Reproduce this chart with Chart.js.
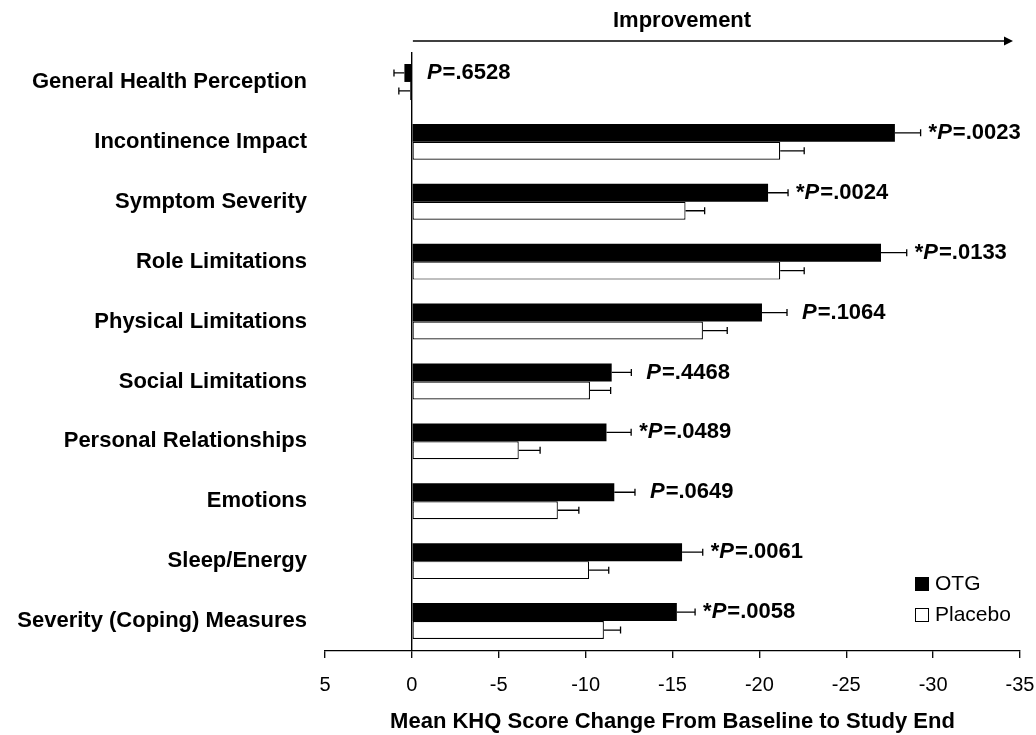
<!DOCTYPE html>
<html>
<head>
<meta charset="utf-8">
<script src="https://cdn.jsdelivr.net/npm/chart.js@4"></script>
<style>
  body { margin: 0; background: #fff; }
</style>
</head>
<body>
<canvas id="khqChart" width="1036" height="735"></canvas>
<script>
// KHQ domains, top to bottom
const categories = [
    'General Health Perception',
    'Incontinence Impact',
    'Symptom Severity',
    'Role Limitations',
    'Physical Limitations',
    'Social Limitations',
    'Personal Relationships',
    'Emotions',
    'Sleep/Energy',
    'Severity (Coping) Measures'
];
const otgMeans = [0.43, -27.8, -20.5, -27.0, -20.15, -11.5, -11.2, -11.65, -15.55, -15.25];
const otgErrors = [0.6, 1.48, 1.15, 1.48, 1.44, 1.13, 1.42, 1.19, 1.19, 1.05];
const placeboMeans = [0.1, -21.2, -15.75, -21.2, -16.75, -10.25, -6.15, -8.4, -10.2, -11.05];
const placeboErrors = [0.65, 1.38, 1.1, 1.38, 1.4, 1.19, 1.23, 1.21, 1.13, 0.96];
const pValues = ['.6528', '.0023', '.0024', '.0133', '.1064', '.4468', '.0489', '.0649', '.0061', '.0058'];
const significant = [false, true, true, true, false, false, true, false, true, true];

const FONT = '"Liberation Sans", Arial, sans-serif';

const errorBars = {
    id: 'errorBars',
    afterDatasetsDraw(chart) {
        const ctx = chart.ctx;
        const xScale = chart.scales.x;
        chart.data.datasets.forEach((ds, di) => {
            chart.getDatasetMeta(di).data.forEach((bar, i) => {
                const v = ds.data[i];
                const err = ds.errors[i];
                const end = xScale.getPixelForValue(v < 0 ? v - err : v + err);
                ctx.save();
                ctx.strokeStyle = '#000';
                ctx.lineWidth = 1.3;
                ctx.beginPath();
                ctx.moveTo(bar.x, bar.y);
                ctx.lineTo(end, bar.y);
                ctx.moveTo(end, bar.y - 3.5);
                ctx.lineTo(end, bar.y + 3.5);
                ctx.stroke();
                ctx.restore();
            });
        });
    }
};

const pLabels = {
    id: 'pLabels',
    afterDatasetsDraw(chart) {
        const ctx = chart.ctx;
        const xScale = chart.scales.x;
        const zero = xScale.getPixelForValue(0);
        const ds = chart.data.datasets[0];
        chart.getDatasetMeta(0).data.forEach((bar, i) => {
            const v = ds.data[i];
            const err = ds.errors[i];
            let x = v < 0 ? xScale.getPixelForValue(v - err) : zero;
            x += significant[i] ? 8 : 15;
            const y = bar.y;
            ctx.save();
            ctx.fillStyle = '#000';
            ctx.textBaseline = 'middle';
            ctx.textAlign = 'left';
            if (significant[i]) {
                ctx.font = 'bold 22px ' + FONT;
                ctx.fillText('*', x, y);
                x += ctx.measureText('*').width;
            }
            ctx.font = 'italic bold 22px ' + FONT;
            ctx.fillText('P', x, y);
            x += ctx.measureText('P').width + 1;
            ctx.font = 'bold 22px ' + FONT;
            ctx.fillText('=' + pValues[i], x, y);
            ctx.restore();
        });
    }
};

const improvementArrow = {
    id: 'improvementArrow',
    afterDraw(chart) {
        const ctx = chart.ctx;
        const xScale = chart.scales.x;
        const top = chart.chartArea.top;
        const x0 = xScale.getPixelForValue(0) + 1;
        const x1 = xScale.getPixelForValue(-35) - 7;
        const y = top - 11;
        ctx.save();
        ctx.strokeStyle = '#000';
        ctx.fillStyle = '#000';
        ctx.lineWidth = 1.5;
        ctx.beginPath();
        ctx.moveTo(x0, y);
        ctx.lineTo(x1 - 6, y);
        ctx.stroke();
        ctx.beginPath();
        ctx.moveTo(x1, y);
        ctx.lineTo(x1 - 9, y - 4.5);
        ctx.lineTo(x1 - 9, y + 4.5);
        ctx.closePath();
        ctx.fill();
        ctx.font = 'bold 22px ' + FONT;
        ctx.textAlign = 'center';
        ctx.textBaseline = 'middle';
        ctx.fillText('Improvement', xScale.getPixelForValue(-15.55), top - 31);
        ctx.restore();
    }
};

const boxLegend = {
    id: 'boxLegend',
    afterDraw(chart) {
        const ctx = chart.ctx;
        const area = chart.chartArea;
        const left = area.right - 105;
        let top = area.bottom - 74;
        ctx.save();
        ctx.font = '21px ' + FONT;
        ctx.textBaseline = 'middle';
        ctx.textAlign = 'left';
        chart.data.datasets.forEach(ds => {
            ctx.fillStyle = ds.backgroundColor;
            ctx.fillRect(left, top, 14, 14);
            ctx.strokeStyle = '#000';
            ctx.lineWidth = 1;
            ctx.strokeRect(left + 0.5, top + 0.5, 13, 13);
            ctx.fillStyle = '#000';
            ctx.fillText(ds.label, left + 20, top + 7);
            top += 31;
        });
        ctx.restore();
    }
};

const ctx = document.getElementById('khqChart').getContext('2d');

new Chart(ctx, {
    type: 'bar',
    data: {
        labels: categories,
        datasets: [{
            label: 'OTG',
            data: otgMeans,
            errors: otgErrors,
            backgroundColor: '#000',
            borderColor: '#000',
            borderWidth: 0
        }, {
            label: 'Placebo',
            data: placeboMeans,
            errors: placeboErrors,
            backgroundColor: '#fff',
            borderColor: '#000',
            borderWidth: 1.2,
            borderSkipped: false
        }]
    },
    options: {
        indexAxis: 'y',
        responsive: false,
        animation: false,
        categoryPercentage: 0.6,
        barPercentage: 1.0,
        layout: {
            padding: { left: 10, right: 16, top: 52, bottom: 0 }
        },
        plugins: {
            legend: { display: false },
            tooltip: { enabled: false }
        },
        scales: {
            x: {
                min: -35,
                max: 5,
                reverse: true,
                afterFit: scale => {
                    scale.height = 84;
                    scale.paddingLeft = 0;
                    scale.paddingRight = 0;
                },
                ticks: {
                    stepSize: 5,
                    color: '#000',
                    padding: 15,
                    font: { family: FONT, size: 20 }
                },
                grid: {
                    color: c => (c.tick && c.tick.value === 0 ? '#000' : 'transparent'),
                    lineWidth: 1.4,
                    tickColor: '#000',
                    tickLength: 7,
                    tickWidth: 1.3
                },
                border: { display: true, color: '#000', width: 1.3 },
                title: {
                    display: true,
                    text: 'Mean KHQ Score Change From Baseline to Study End',
                    color: '#000',
                    font: { family: FONT, size: 22, weight: 'bold' },
                    padding: { top: 0, bottom: 0 }
                }
            },
            y: {
                afterFit: scale => { scale.width = 315; },
                grid: { display: false, drawTicks: false },
                border: { display: false },
                ticks: {
                    color: '#000',
                    padding: 18,
                    font: { family: FONT, size: 22, weight: 'bold' }
                }
            }
        }
    },
    plugins: [errorBars, pLabels, improvementArrow, boxLegend]
});
</script>
</body>
</html>
